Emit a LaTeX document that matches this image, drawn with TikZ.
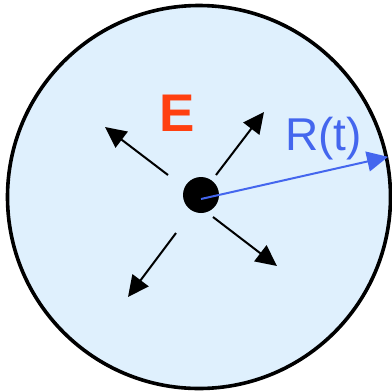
\documentclass[tikz,border=0pt]{standalone}
\usepackage{fontspec}
\newfontfamily\arialfont{Liberation Sans}
\usetikzlibrary{arrows.meta}
\definecolor{shellblue}{HTML}{DFF0FD}
\definecolor{radiusblue}{HTML}{4466EE}
\definecolor{energyred}{HTML}{FF4010}

\begin{document}
\begin{tikzpicture}[x=1pt,y=-1pt,>={Triangle[length=21pt,width=20pt]}]
  \useasboundingbox (0,0) rectangle (392,392);
  \node[circle,draw=black,line width=3.6pt,fill=shellblue,
    inner sep=0pt,minimum size=383pt] (shell) at (199,197) {};
  \node[circle,fill=black,inner sep=0pt,minimum size=36pt] (core)
    at (201,195) {};

  % outgoing arrows round the core
  \coordinate (nw tail) at (168,175); \coordinate (nw head) at (105,127);
  \coordinate (ne tail) at (216,175); \coordinate (ne head) at (264,112);
  \coordinate (se tail) at (213,217); \coordinate (se head) at (277,266);
  \coordinate (sw tail) at (176,233); \coordinate (sw head) at (128,297);
  \draw[->,line width=2pt] (nw tail) -- (nw head);
  \draw[->,line width=2pt] (ne tail) -- (ne head);
  \draw[->,line width=2pt] (se tail) -- (se head);
  \draw[->,line width=2pt] (sw tail) -- (sw head);

  \draw[->,line width=2pt,radiusblue] ([yshift=-4pt]core.center) --
    (shell.12.5);
  \node[text=energyred,font=\arialfont\bfseries\fontsize{53}{53}\selectfont,
    inner sep=0pt] (energy) at (177,113) {E};
  \node[text=radiusblue,font=\arialfont\fontsize{46}{46}\selectfont,
    inner sep=0pt,anchor=base west] (radius) at (285,150) {R(t)};
\end{tikzpicture}
\end{document}
